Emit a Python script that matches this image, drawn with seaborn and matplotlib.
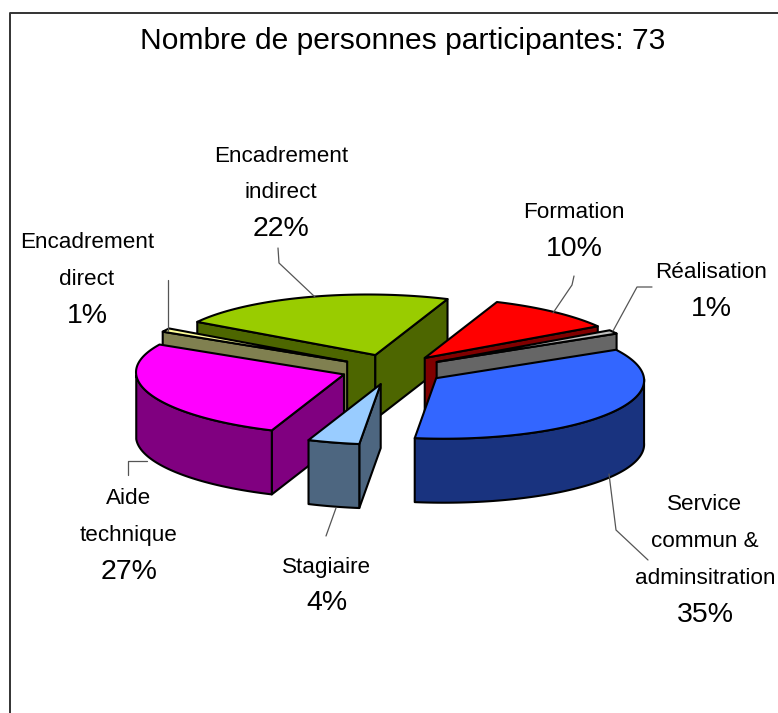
import numpy as np
import pandas as pd
import seaborn as sns
import matplotlib
matplotlib.use("Agg")
import matplotlib.pyplot as plt

# ---- data ----
categories = ["Formation", "Réalisation", "Service commun &\nadminsitration", "Stagiaire",
              "Aide\ntechnique", "Encadrement\ndirect", "Encadrement\nindirect"]
values = [10, 1, 35, 4, 27, 1, 22]
top_colors = ["#ff0000", "#c0c0c0", "#3366ff", "#99ccff", "#ff00ff", "#ffff99", "#99cc00"]
side_colors = ["#800000", "#666666", "#19337f", "#4d6680", "#800080", "#808050", "#4d6600"]
title = "Nombre de personnes participantes: 73"

df = pd.DataFrame({"cat": categories, "val": values, "top": top_colors, "side": side_colors})

sns.set_theme(style="white")
plt.rcParams["font.family"] = ["Liberation Sans", "DejaVu Sans"]

# ---- projection of the 3-D pie ----
START = 30.0
EXPLODE = 0.25
CENTER = (392.5, 369.5)
HEIGHT = 64.0
A, B, C, D = 205.0, -35.0, 8.0, 60.0
LW = 1.5


def project(bearing, r=1.0, origin=(0.0, 0.0)):
    t = np.radians(bearing)
    x, y = r * np.sin(t), r * np.cos(t)
    return origin[0] + A * x + B * y, origin[1] - (C * x + D * y)


def facing(bearing):
    t = np.radians(bearing)
    return C * np.sin(t) + D * np.cos(t) < 0


frac = df["val"] / df["val"].sum()
df["t1"] = START + 360 * frac.cumsum().shift(fill_value=0)
df["t2"] = START + 360 * frac.cumsum()
df["mid"] = (df["t1"] + df["t2"]) / 2

fig = plt.figure(figsize=(7.78, 7.13), dpi=100, facecolor="white")
ax = fig.add_axes([0, 0, 1, 1])
ax.set_xlim(0, 778)
ax.set_ylim(713, 0)
ax.axis("off")

# chart frame
ax.plot([10.5, 10.5, 778], [713, 13, 13], color="#333333", lw=1.4, solid_capstyle="butt")


def quad(p, q, color):
    ax.fill([p[0], q[0], q[0], p[0]], [p[1], q[1], q[1] + HEIGHT, p[1] + HEIGHT],
            facecolor=color, edgecolor="black", lw=LW, joinstyle="round")


# painter's order, from the back of the pie to the front
order = ["Encadrement\nindirect", "Formation", "Encadrement\ndirect", "Réalisation",
         "Aide\ntechnique", "Service commun &\nadminsitration", "Stagiaire"]

for name in order:
    s = df[df["cat"] == name].iloc[0]
    ox, oy = project(s["mid"], EXPLODE, CENTER)
    o = (ox, oy)
    p1 = project(s["t1"], 1.0, o)
    p2 = project(s["t2"], 1.0, o)
    if facing(s["t1"] - 90):
        quad(o, p1, s["side"])
    if facing(s["t2"] + 90):
        quad(o, p2, s["side"])
    arc = np.linspace(s["t1"], s["t2"], 120)
    vis = arc[facing(arc)]
    if len(vis) > 1:
        xs, ys = project(vis, 1.0, o)
        ax.fill(np.r_[xs, xs[::-1]], np.r_[ys, ys[::-1] + HEIGHT],
                facecolor=s["side"], edgecolor="black", lw=LW, joinstyle="round")
    xs, ys = project(arc, 1.0, o)
    ax.fill(np.r_[ox, xs], np.r_[oy, ys], facecolor=s["top"], edgecolor="black",
            lw=LW, joinstyle="round")

# leader lines
leaders = [
    ([278, 279, 315], [248, 263, 297]),
    ([168, 168], [280, 331]),
    ([128, 128, 147], [475, 461, 461]),
    ([326, 336], [536, 508]),
    ([609, 616, 648], [474, 530, 560]),
    ([553, 572, 574], [313, 285, 276]),
    ([613, 637, 652], [331, 287, 287]),
]
for lx, ly in leaders:
    ax.plot(lx, ly, color="#555555", lw=0.9, zorder=1)

# labels: (x, y of the first line)
fs_name = 16.2
fs_pct = 20.5
labels = {
    "Formation": (574, 213),
    "Réalisation": (711, 272),
    "Service commun &\nadminsitration": (705, 505),
    "Stagiaire": (327, 567),
    "Aide\ntechnique": (129, 499),
    "Encadrement\ndirect": (87, 243),
    "Encadrement\nindirect": (281, 156),
}
LINE = 36.5
for name, (x, y) in labels.items():
    s = df[df["cat"] == name].iloc[0]
    parts = name.split("\n")
    if name.startswith("Service"):
        parts = ["Service", "commun &", "adminsitration"]
    for i, part in enumerate(parts):
        ax.text(x, y + i * LINE, part, ha="center", va="center", fontsize=fs_name, color="black")
    ax.text(x, y + len(parts) * LINE, f"{s['val']}%", ha="center", va="center",
            fontsize=fs_pct, color="black")

ax.text(402.5, 41, title, ha="center", va="center", fontsize=21.6, color="black")

fig.savefig("out.png", dpi=100, facecolor="white")
